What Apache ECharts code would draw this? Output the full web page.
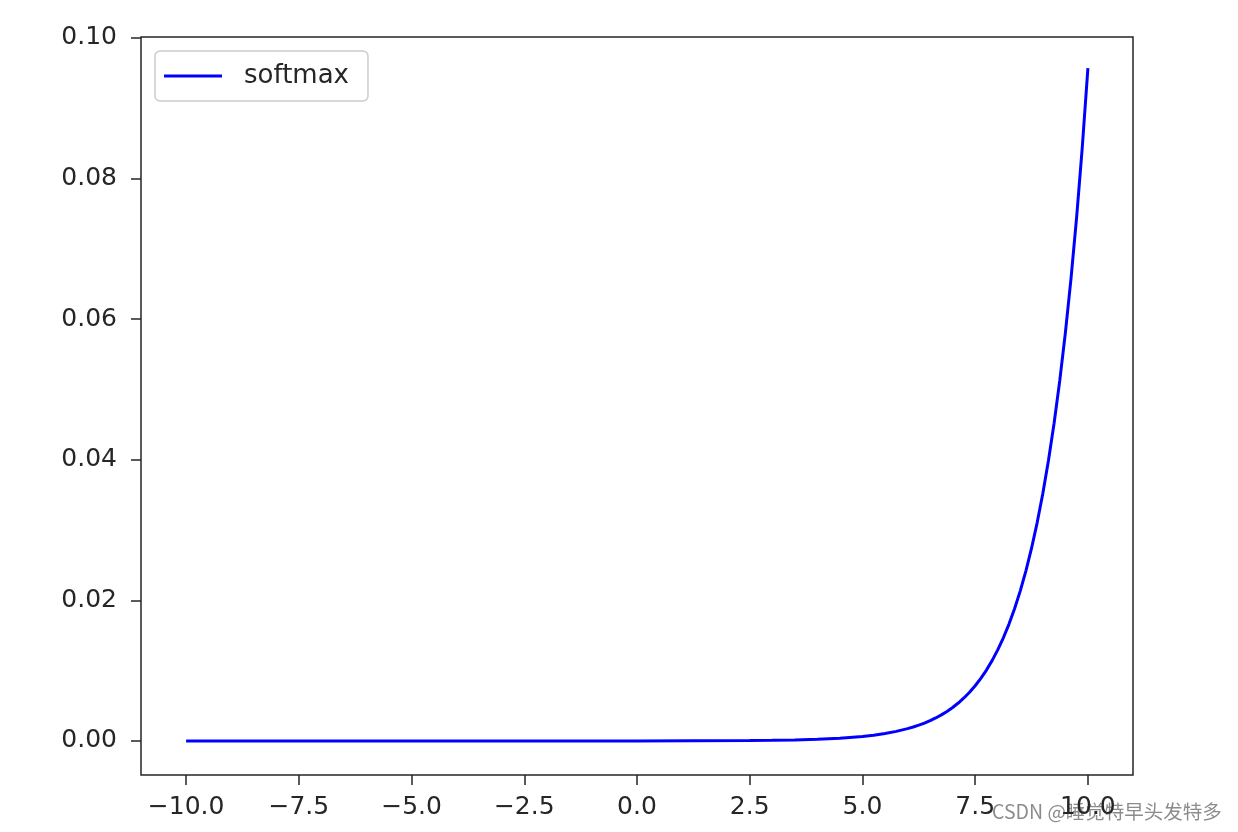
<!DOCTYPE html>
<html>
<head>
<meta charset="utf-8">
<script src="https://cdn.jsdelivr.net/npm/echarts@6/dist/echarts.min.js"></script>
<style>
html,body{margin:0;padding:0;background:#fff;}
#chart{width:1238px;height:832px;}
</style>
</head>
<body>
<div id="chart"></div>
<script>
// Data
var xValues = [-10, -7.5, -5, -2.5, 0, 2.5, 3, 3.5, 4, 4.5, 5, 5.25, 5.5, 5.75,
  6, 6.125, 6.25, 6.375, 6.5, 6.625, 6.75, 6.875, 7, 7.125, 7.25, 7.375, 7.5, 7.625, 7.75, 7.875,
  8, 8.125, 8.25, 8.375, 8.5, 8.625, 8.75, 8.875, 9, 9.125, 9.25, 9.375, 9.5, 9.625, 9.75, 9.875, 10];
var softmaxValues = [0, 0, 0, 0, 0.000004, 0.000053, 0.000087, 0.000144, 0.000237, 0.000391, 0.000645, 0.000828, 0.001063, 0.001365,
  0.001753, 0.001986, 0.002251, 0.002550, 0.002890, 0.003275, 0.003711, 0.004205, 0.004765, 0.005399, 0.006118, 0.006933, 0.007855, 0.008901, 0.010087, 0.011430,
  0.012952, 0.014676, 0.016630, 0.018844, 0.021354, 0.024197, 0.027419, 0.031069, 0.035206, 0.039894, 0.045206, 0.051224, 0.058045, 0.065774, 0.074531, 0.084455, 0.0957];
var xTicks = [-10, -7.5, -5, -2.5, 0, 2.5, 5, 7.5, 10];
var yTicks = [0, 0.02, 0.04, 0.06, 0.08, 0.10];
var seriesName = 'softmax';

var points = xValues.map(function (x, i) { return [x, softmaxValues[i]]; });
var font = 'DejaVu Sans';
var textColor = '#262626';

var chart = echarts.init(document.getElementById('chart'));
chart.setOption({
  backgroundColor: '#fff',
  animation: false,
  grid: {
    left: 141, top: 37, width: 992, height: 738,
    show: true, borderColor: '#262626', borderWidth: 1.5, backgroundColor: '#fff'
  },
  legend: {
    data: [seriesName],
    left: 155, top: 51,
    orient: 'vertical',
    icon: 'rect',
    itemWidth: 58, itemHeight: 3,
    padding: [10, 19, 10, 9],
    borderColor: '#cccccc', borderWidth: 1.5, borderRadius: 5,
    backgroundColor: 'rgba(255,255,255,0.8)',
    textStyle: { fontFamily: font, fontSize: 26, color: textColor, padding: [0, 0, 0, 17], lineHeight: 30 }
  },
  xAxis: {
    type: 'value', min: -11, max: 11,
    axisLine: { show: false, onZero: false },
    splitLine: { show: false },
    axisTick: { show: true, inside: false, customValues: xTicks, length: 10, lineStyle: { color: '#262626', width: 1.5 } },
    axisLabel: {
      customValues: xTicks, margin: 20,
      fontFamily: font, fontSize: 25, color: textColor,
      formatter: function (v) { return (v < 0 ? '\u2212' : '') + Math.abs(v).toFixed(1); }
    }
  },
  yAxis: {
    type: 'value', min: -0.00484, max: 0.10014,
    axisLine: { show: false, onZero: false },
    splitLine: { show: false },
    axisTick: { show: true, inside: false, customValues: yTicks, length: 10, lineStyle: { color: '#262626', width: 1.5 } },
    axisLabel: {
      customValues: yTicks, margin: 24,
      fontFamily: font, fontSize: 25, color: textColor,
      padding: [12, 0, 0, 0],
      formatter: function (v) { return v.toFixed(2); }
    }
  },
  series: [{
    name: seriesName,
    type: 'line',
    data: points,
    showSymbol: false,
    smooth: false,
    lineStyle: { color: '#0000ff', width: 3 },
    itemStyle: { color: '#0000ff' }
  }],
  graphic: [{
    type: 'text', left: 992, top: 802,
    style: {
      text: 'CSDN @睡觉特早头发特多',
      font: '19.5px "Noto Sans CJK SC", "DejaVu Sans", sans-serif',
      fill: '#8c8c8c'
    }
  }]
});
</script>
</body>
</html>
